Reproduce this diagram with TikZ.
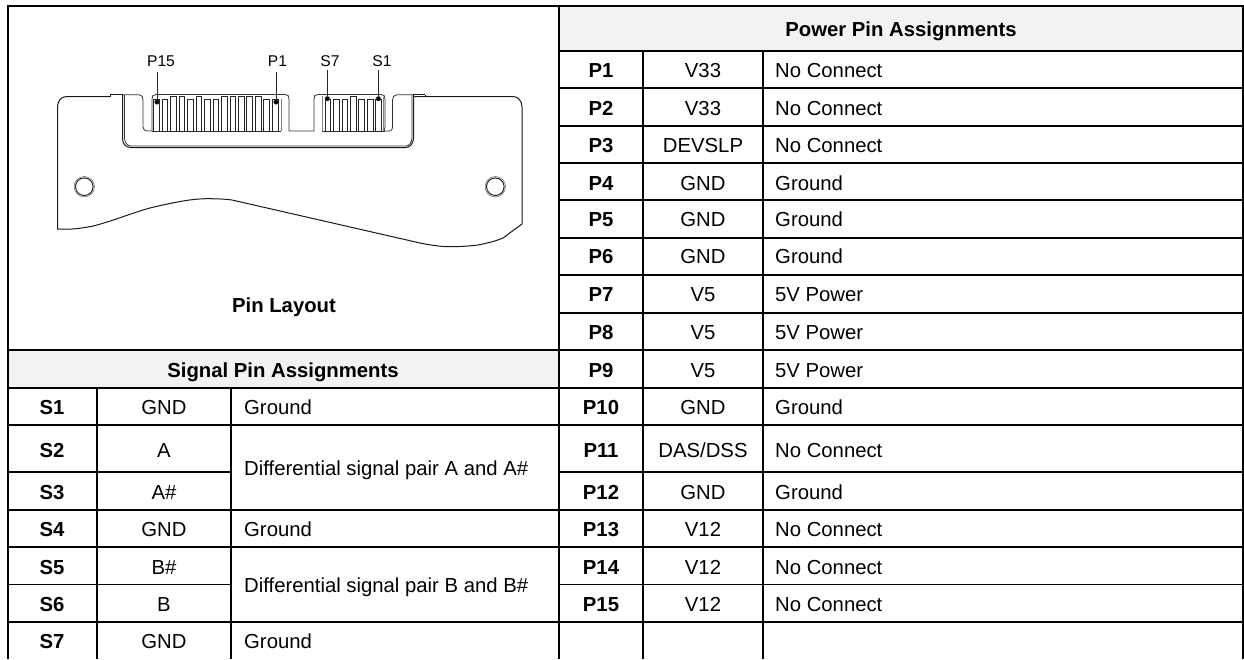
\documentclass[tikz,border=0pt]{standalone}
\usepackage{fontspec}
\setmainfont{Liberation Sans}
\tikzset{
  grid/.style={line width=1.7pt,black},
  hdr/.style={fill=black!5,draw=none},
  cell/.style={inner sep=0pt,anchor=base,font=\fontsize{20.3}{24}\selectfont},
  pin/.style={cell,font=\fontsize{20.3}{24}\selectfont\bfseries},
  desc/.style={cell,anchor=base west},
  lbl/.style={inner sep=0pt,anchor=base,font=\fontsize{15.6}{18}\selectfont},
  board/.style={line width=1pt,black!90},
  thin/.style={line width=0.8pt,black!80},
  contact/.style={line width=0.85pt,black!85},
  dotn/.style={circle,fill=black,draw=black!80,inner sep=0pt,minimum size=4.6pt},
  leader/.style={line width=0.8pt,black!85},
}
\begin{document}
\begin{tikzpicture}[x=1pt,y=-1pt]
\useasboundingbox (0,0) rectangle (1244,659);
% header fills
\fill[hdr] (559,6) rectangle (1243,51);
\fill[hdr] (8,350) rectangle (559,388);
% table grid
\draw[grid] (8,659) -- (8,6) -- (1243,6) -- (1243,659);
\draw[grid] (559,6) -- (559,659);
\draw[grid] (97,388) -- (97,659);
\draw[grid] (231.3,388) -- (231.3,659);
\draw[grid] (643,51) -- (643,659);
\draw[grid] (763,51) -- (763,659);
\foreach \y in {51,88,126,163,200,238,275,313} \draw[grid] (559,\y) -- (1243,\y);
\foreach \y in {350,388,425,510,547,622} \draw[grid] (8,\y) -- (1243,\y);
\foreach \y in {472,584.5} {\draw[grid] (8,\y) -- (231.3,\y); \draw[grid] (559,\y) -- (1243,\y);}
% headers
\node[pin] (hp) at (901,36) {Power Pin Assignments};
\node[pin] (hs) at (283,377) {Signal Pin Assignments};
\node[pin] (pl) at (284,312) {Pin Layout};
% power rows
\foreach \n/\s/\d/\b in {1/V33/No Connect/77.5,2/V33/No Connect/115,3/DEVSLP/No Connect/152,4/GND/Ground/190.5,5/GND/Ground/226,6/GND/Ground/263,7/V5/5V Power/301.5,8/V5/5V Power/339,9/V5/5V Power/377,10/GND/Ground/414,11/DAS\slash DSS/No Connect/457,12/GND/Ground/499,13/V12/No Connect/536,14/V12/No Connect/574,15/V12/No Connect/611}{
  \node[pin] (p\n) at (601,\b) {P\n};
  \node[cell] (ps\n) at (703,\b) {\s};
  \node[desc] (pd\n) at (775,\b) {\d};
}
% signal rows
\foreach \n/\s/\b in {1/GND/414,2/A/457,3/A\#/499,4/GND/536,5/B\#/574,6/B/611,7/GND/648}{
  \node[pin] (s\n) at (52,\b) {S\n};
  \node[cell] (ss\n) at (164,\b) {\s};
}
\node[desc] (sd1) at (244,414) {Ground};
\node[desc] (sd4) at (244,536) {Ground};
\node[desc] (sd7) at (244,648) {Ground};
\node[desc] (sda) at (244,475) {Differential signal pair A and A\#};
\node[desc] (sdb) at (244,592) {Differential signal pair B and B\#};
% board outline
\draw[board] (110,96.5) -- (67,96.5) .. controls (61,96.5) and (57.5,101) .. (57.5,107) -- (57.5,229) -- (72,229)
  .. controls (80,228.5) and (90,227) .. (97,225) .. controls (115,220) and (135,212) .. (150,208)
  .. controls (162,205) and (172,203) .. (183,201) .. controls (192,199.5) and (200,198.7) .. (207,198.7)
  .. controls (216,198.7) and (225,199) .. (232,200) -- (420,243)
  .. controls (430,245) and (440,246.7) .. (450,246.7) .. controls (460,246.7) and (470,246) .. (478,245)
  .. controls (488,243) and (496,241) .. (503,238) -- (522,224) -- (522,107)
  .. controls (522,101) and (518,96.5) .. (513,96.5) -- (413,96.5);
\draw[board] (110,94.8) -- (123,94.8) (413,94.8) -- (425,94.8) (425,94.8) -- (425,96.5) (110,94.8) -- (110,96.5);
% cavity, double line
\draw[board] (122.5,95) -- (122.5,138) .. controls (122.5,143) and (125,147.6) .. (131,147.6) -- (406,147.6)
  .. controls (410,147.6) and (413.5,143) .. (413.5,138) -- (413.5,95);
\draw[thin] (124.5,95) -- (124.5,138) .. controls (124.5,142) and (127,146) .. (131,146) -- (406,146)
  .. controls (409,146) and (412,142) .. (412,138) -- (412,95);
% tongue and cavity
\draw[thin] (123,94.8) -- (139,94.8) .. controls (142,94.8) and (143,97) .. (143,100) -- (143,127)
  .. controls (143,129.5) and (145,131) .. (147,131) -- (152,131) -- (152,99) .. controls (152,96) and (153,94.5) .. (156,94.5)
  -- (285,94.5) .. controls (288,94.5) and (289,96) .. (289,99) -- (289,131) -- (314,131)
  -- (314,99) .. controls (314,96) and (315,94.5) .. (318,94.5) -- (381,94.5)
  .. controls (384,94.5) and (385,96) .. (385,99) -- (385,127) -- (384,131) -- (390,131)
  .. controls (392,130) and (392.5,129) .. (392.5,127) -- (392.5,100) .. controls (392.5,97) and (394,94.8) .. (397,94.8) -- (413,94.8);
\draw[thin] (152,131) -- (281,131) (322,131) -- (385,131);
\draw[line width=1.6pt,black!50] (281.5,99) -- (281.5,131) (322.5,96) -- (322.5,131) (383.5,97) -- (383.5,131);
% power contacts
\foreach \i/\t in {0/99.5,1/99.5,2/96,3/96,4/99.5,5/96,6/99.5,7/99.5,8/96,9/96,10/96,11/96,12/96,13/99.5,14/99.5}{
  \pgfmathsetmacro{\xa}{153.7+8.47*\i}
  \draw[contact] (\xa,\t) rectangle (\xa+5.7,131);
}
% signal contacts
\foreach \i/\t in {0/99.5,1/99.5,2/99.5,3/96,4/99.5,5/99.5,6/99.5}{
  \pgfmathsetmacro{\xa}{325+8.47*\i}
  \draw[contact] (\xa,\t) rectangle (\xa+5.7,131);
}
% mounting holes
\foreach \c/\x in {a/84.3,b/495.3}{
  \draw[line width=0.6pt,black!55] (\x,186.7) circle (10.2);
  \draw[line width=1pt,black!85] (\x,186.7) circle (8.8);
}
% labels with leaders
\node[lbl] (l15) at (161,66.7) {P15};
\node[lbl] (l1) at (277.5,66.7) {P1};
\node[lbl] (l7) at (330,66.7) {S7};
\node[lbl] (ls1) at (382,66.7) {S1};
\node[dotn] (d15) at (157,102) {};
\node[dotn] (d1) at (276,102) {};
\node[dotn] (d7) at (327.3,98.7) {};
\node[dotn] (ds1) at (378.4,98.7) {};
\coordinate (t15) at (157,72);
\coordinate (t1) at (276,72);
\coordinate (t7) at (327.3,69.5);
\coordinate (ts1) at (378.4,69.5);
\draw[leader] (t15) -- (d15);
\draw[leader] (t1) -- (d1);
\draw[leader] (t7) -- (d7);
\draw[leader] (ts1) -- (ds1);
\end{tikzpicture}
\end{document}
